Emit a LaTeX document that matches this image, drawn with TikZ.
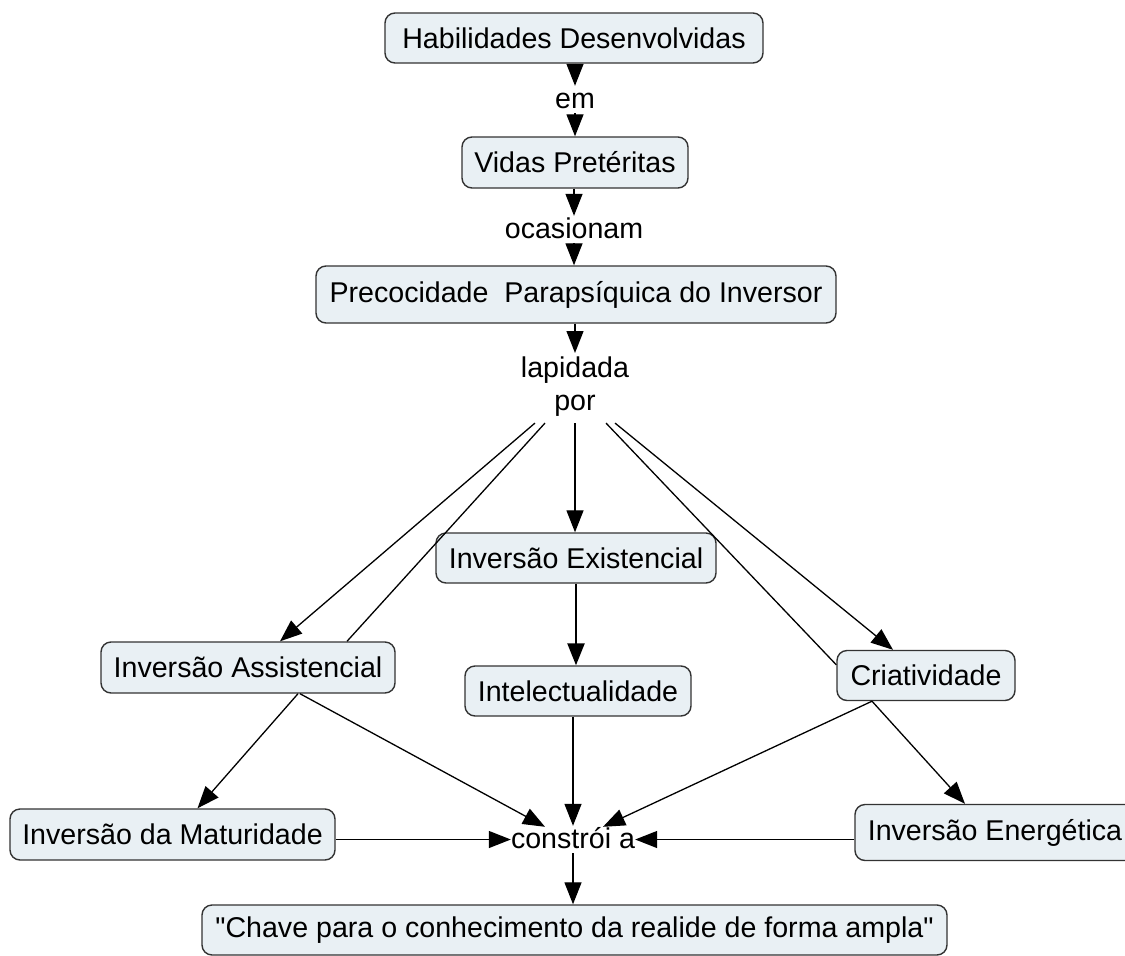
\documentclass[tikz,border=0pt]{standalone}
\usepackage{fontspec}
\setmainfont{Liberation Sans}[Ligatures=TeXOff]
\usetikzlibrary{arrows.meta,calc}
\definecolor{boxfill}{HTML}{E9F0F4}
\definecolor{boxline}{HTML}{333333}
\begin{document}
\begin{tikzpicture}[x=1pt,y=-1pt,
  concept/.style={draw=boxline, fill=boxfill, line width=1.4pt, rounded corners=10pt, inner sep=0pt, font=\fontsize{28.6}{34}\selectfont},
  linkphrase/.style={inner xsep=0pt, inner ysep=2pt, text height=20pt, text depth=3pt, font=\fontsize{28.6}{34}\selectfont, anchor=base},
  conn/.style={draw=black, line width=1.3pt},
  arr/.style={conn, -{Triangle[length=22pt,width=17pt]}},
]
\useasboundingbox (0,0) rectangle (1125,956);

% concepts and linking phrases
\node[concept, minimum width=378pt, minimum height=50pt] (hab) at (574,38) {Habilidades Desenvolvidas\hspace{8pt}};
\node[linkphrase] (em) at (575,108) {em};
\node[concept, minimum width=226pt, minimum height=51pt] (vid) at (575,162.5) {Vidas Pretéritas};
\node[linkphrase] (oc) at (574,238) {ocasionam};
\node[concept, minimum width=520pt, minimum height=57pt] (prec) at (576,294.5) {Precocidade\ \ Parapsíquica do Inversor};
\node[inner xsep=0pt, inner ysep=4pt, align=center, anchor=north, font=\fontsize{28.6}{33}\selectfont] (lp) at (575,353) {lapidada\\por};
\node[concept, minimum width=280pt, minimum height=50pt] (ex) at (576,558) {Inversão Existencial};
\node[concept, minimum width=294pt, minimum height=51pt] (asst) at (248,667.5) {Inversão Assistencial};
\node[concept, minimum width=226pt, minimum height=50pt] (int) at (578,691) {Intelectualidade};
\node[concept, minimum width=178pt, minimum height=50pt] (cri) at (926,675.5) {Criatividade};
\node[concept, minimum width=325pt, minimum height=51pt] (mat) at (172.5,834.5) {Inversão da Maturidade};
\node[linkphrase] (ca) at (573,848) {constrói a};
\node[concept, minimum width=280pt, minimum height=56pt] (en) at (995,832.5) {Inversão Energética};
\node[concept, minimum width=745pt, minimum height=50pt] (ch) at (574.5,930) {"Chave para o conhecimento da realide de forma ampla"};

% connectors
\draw[arr] (em.north |- hab.south) -- (em.north);
\draw[arr] (em.south) -- (em.south |- vid.north);
\draw[arr] (oc.north |- vid.south) -- (oc.north);
\draw[arr] (oc.south) -- (oc.south |- prec.north);
\draw[arr] (lp.north |- prec.south) -- (lp.north);

\draw[arr] ($(lp.south)+(-40,2)$) -- ($(asst.north)+(32,0)$);
\draw[conn] ($(lp.south)+(-30,2)$) -- ($(asst.north)+(99,0)$);
\draw[arr] ($(lp.south)+(0,2)$) -- (lp.south |- ex.north);
\draw[conn] ($(lp.south)+(31,2)$) -- ($(cri.north west)+(0,15)$);
\draw[arr] ($(lp.south)+(40,2)$) -- ($(cri.north)+(-33,0)$);

\draw[conn, line width=2.4pt, -{Triangle[length=22pt,width=17pt]}] (ex.south) -- (ex.south |- int.north);

\draw[arr] ($(asst.south)+(50,0)$) -- ($(mat.north)+(25,0)$);
\draw[arr] ($(asst.south)+(52,0)$) -- ($(ca.north)+(-28,1)$);
\draw[arr] (ca.north |- int.south) -- (ca.north);
\draw[arr] ($(cri.south)+(-54,0)$) -- ($(ca.north)+(30,1)$);
\draw[arr] ($(cri.south)+(-54,0)$) -- ($(en.north)+(-30,0)$);
\draw[arr] (mat.east |- ca.west) -- (ca.west);
\draw[arr] (en.west |- ca.east) -- (ca.east);
\draw[arr] (ca.south) -- (ca.south |- ch.north);
\end{tikzpicture}
\end{document}
